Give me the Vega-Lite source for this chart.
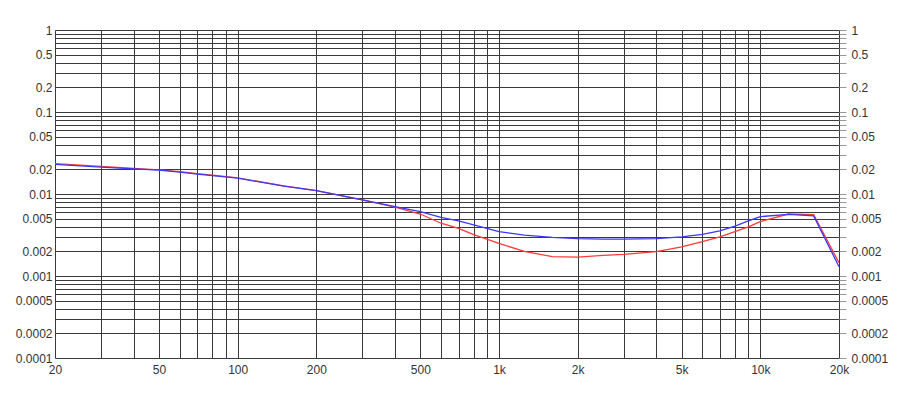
{
  "$schema": "https://vega.github.io/schema/vega-lite/v6.json",
  "autosize": {"type": "none"},
  "padding": {"left": 55, "top": 30, "right": 61, "bottom": 40},
  "width": 784,
  "height": 328,
  "background": "white",
  "config": {
    "view": {"stroke": null},
    "axis": {"labelFont": "Liberation Sans", "labelFontSize": 12, "labelColor": "#333333"}
  },
  "data": {"values": [
    {"f": 20, "ch": "left", "v": 0.0235}, {"f": 30, "ch": "left", "v": 0.0217}, {"f": 40, "ch": "left", "v": 0.0205},
    {"f": 50, "ch": "left", "v": 0.0197}, {"f": 60, "ch": "left", "v": 0.0187}, {"f": 70, "ch": "left", "v": 0.0177},
    {"f": 80, "ch": "left", "v": 0.0170}, {"f": 100, "ch": "left", "v": 0.0157}, {"f": 150, "ch": "left", "v": 0.0126},
    {"f": 200, "ch": "left", "v": 0.0110}, {"f": 300, "ch": "left", "v": 0.0085}, {"f": 400, "ch": "left", "v": 0.0069},
    {"f": 500, "ch": "left", "v": 0.0057}, {"f": 600, "ch": "left", "v": 0.0044}, {"f": 700, "ch": "left", "v": 0.0038},
    {"f": 800, "ch": "left", "v": 0.0032}, {"f": 1000, "ch": "left", "v": 0.00250}, {"f": 1250, "ch": "left", "v": 0.0020},
    {"f": 1600, "ch": "left", "v": 0.00172}, {"f": 2000, "ch": "left", "v": 0.00170}, {"f": 2500, "ch": "left", "v": 0.00178},
    {"f": 3000, "ch": "left", "v": 0.00184}, {"f": 4000, "ch": "left", "v": 0.00198}, {"f": 5000, "ch": "left", "v": 0.00227},
    {"f": 6000, "ch": "left", "v": 0.00262}, {"f": 7000, "ch": "left", "v": 0.00300}, {"f": 8000, "ch": "left", "v": 0.00347},
    {"f": 9000, "ch": "left", "v": 0.00398}, {"f": 10000, "ch": "left", "v": 0.0046}, {"f": 12800, "ch": "left", "v": 0.0057},
    {"f": 16000, "ch": "left", "v": 0.0056}, {"f": 20000, "ch": "left", "v": 0.00145},
    {"f": 20, "ch": "right", "v": 0.0230}, {"f": 30, "ch": "right", "v": 0.0213}, {"f": 40, "ch": "right", "v": 0.0203},
    {"f": 50, "ch": "right", "v": 0.0195}, {"f": 60, "ch": "right", "v": 0.0185}, {"f": 70, "ch": "right", "v": 0.0175},
    {"f": 80, "ch": "right", "v": 0.0168}, {"f": 100, "ch": "right", "v": 0.0156}, {"f": 150, "ch": "right", "v": 0.0125},
    {"f": 200, "ch": "right", "v": 0.0110}, {"f": 300, "ch": "right", "v": 0.0085}, {"f": 400, "ch": "right", "v": 0.0070},
    {"f": 500, "ch": "right", "v": 0.0061}, {"f": 600, "ch": "right", "v": 0.0052}, {"f": 700, "ch": "right", "v": 0.0047},
    {"f": 800, "ch": "right", "v": 0.0042}, {"f": 1000, "ch": "right", "v": 0.00347}, {"f": 1250, "ch": "right", "v": 0.00315},
    {"f": 1600, "ch": "right", "v": 0.00295}, {"f": 2000, "ch": "right", "v": 0.00285}, {"f": 2500, "ch": "right", "v": 0.00281},
    {"f": 3000, "ch": "right", "v": 0.00281}, {"f": 4000, "ch": "right", "v": 0.00285}, {"f": 5000, "ch": "right", "v": 0.00300},
    {"f": 6000, "ch": "right", "v": 0.00322}, {"f": 7000, "ch": "right", "v": 0.00354}, {"f": 8000, "ch": "right", "v": 0.00407},
    {"f": 9000, "ch": "right", "v": 0.00469}, {"f": 10000, "ch": "right", "v": 0.0053}, {"f": 12800, "ch": "right", "v": 0.00565},
    {"f": 16000, "ch": "right", "v": 0.0054}, {"f": 20000, "ch": "right", "v": 0.0013}
  ]},
  "layer": [
    {
      "mark": {"type": "line", "strokeWidth": 1.3, "clip": true},
      "encoding": {
        "x": {"field": "f", "type": "quantitative",
          "scale": {"type": "log", "domain": [20, 20000], "nice": false},
          "axis": {"title": null, "values": [20,30,40,50,60,70,80,90,100,200,300,400,500,600,700,800,900,1000,2000,3000,4000,5000,6000,7000,8000,9000,10000,20000],
            "grid": true, "gridColor": "#3a3a3a", "gridOpacity": 1, "gridWidth": 1,
            "ticks": false, "domain": false, "labelOverlap": false, "labelBound": false, "labelFlush": false, "labelPadding": 6,
            "labelExpr": "indexof([20,50,100,200,500,1000,2000,5000,10000,20000], datum.value) >= 0 ? (datum.value >= 1000 ? (datum.value/1000) + 'k' : datum.value + '') : ''"}},
        "y": {"field": "v", "type": "quantitative",
          "scale": {"type": "log", "domain": [0.0001, 1], "nice": false},
          "axis": {"title": null, "values": [1,0.9,0.8,0.7,0.6,0.5,0.4,0.3,0.2,0.1,0.09,0.08,0.07,0.06,0.05,0.04,0.03,0.02,0.01,0.009,0.008,0.007,0.006,0.005,0.004,0.003,0.002,0.001,0.0009,0.0008,0.0007,0.0006,0.0005,0.0004,0.0003,0.0002,0.0001],
            "grid": true, "gridColor": "#3a3a3a", "gridOpacity": 1, "gridWidth": 1,
            "ticks": false, "domain": false, "labelOverlap": false, "labelBound": false, "labelFlush": false, "labelPadding": 3,
            "labelExpr": "indexof([1,0.5,0.2,0.1,0.05,0.02,0.01,0.005,0.002,0.001,0.0005,0.0002,0.0001], datum.value) >= 0 ? datum.value + '' : ''"}},
        "color": {"field": "ch", "type": "nominal", "scale": {"domain": ["left", "right"], "range": ["#ff3838", "#3838ff"]}, "legend": null},
        "order": {"field": "f", "type": "quantitative"}
      }
    },
    {
      "mark": {"type": "rule", "opacity": 0},
      "encoding": {
        "y": {"field": "v", "type": "quantitative",
          "scale": {"type": "log", "domain": [0.0001, 1], "nice": false},
          "axis": {"orient": "right", "title": null, "values": [1,0.9,0.8,0.7,0.6,0.5,0.4,0.3,0.2,0.1,0.09,0.08,0.07,0.06,0.05,0.04,0.03,0.02,0.01,0.009,0.008,0.007,0.006,0.005,0.004,0.003,0.002,0.001,0.0009,0.0008,0.0007,0.0006,0.0005,0.0004,0.0003,0.0002,0.0001],
            "grid": false, "ticks": true, "tickSize": 7, "tickColor": "#999999", "domain": false,
            "labelOverlap": false, "labelBound": false, "labelFlush": false, "labelPadding": 5,
            "labelExpr": "indexof([1,0.5,0.2,0.1,0.05,0.02,0.01,0.005,0.002,0.001,0.0005,0.0002,0.0001], datum.value) >= 0 ? datum.value + '' : ''"}}
      }
    }
  ],
  "resolve": {"scale": {"y": "shared"}, "axis": {"y": "independent"}}
}
